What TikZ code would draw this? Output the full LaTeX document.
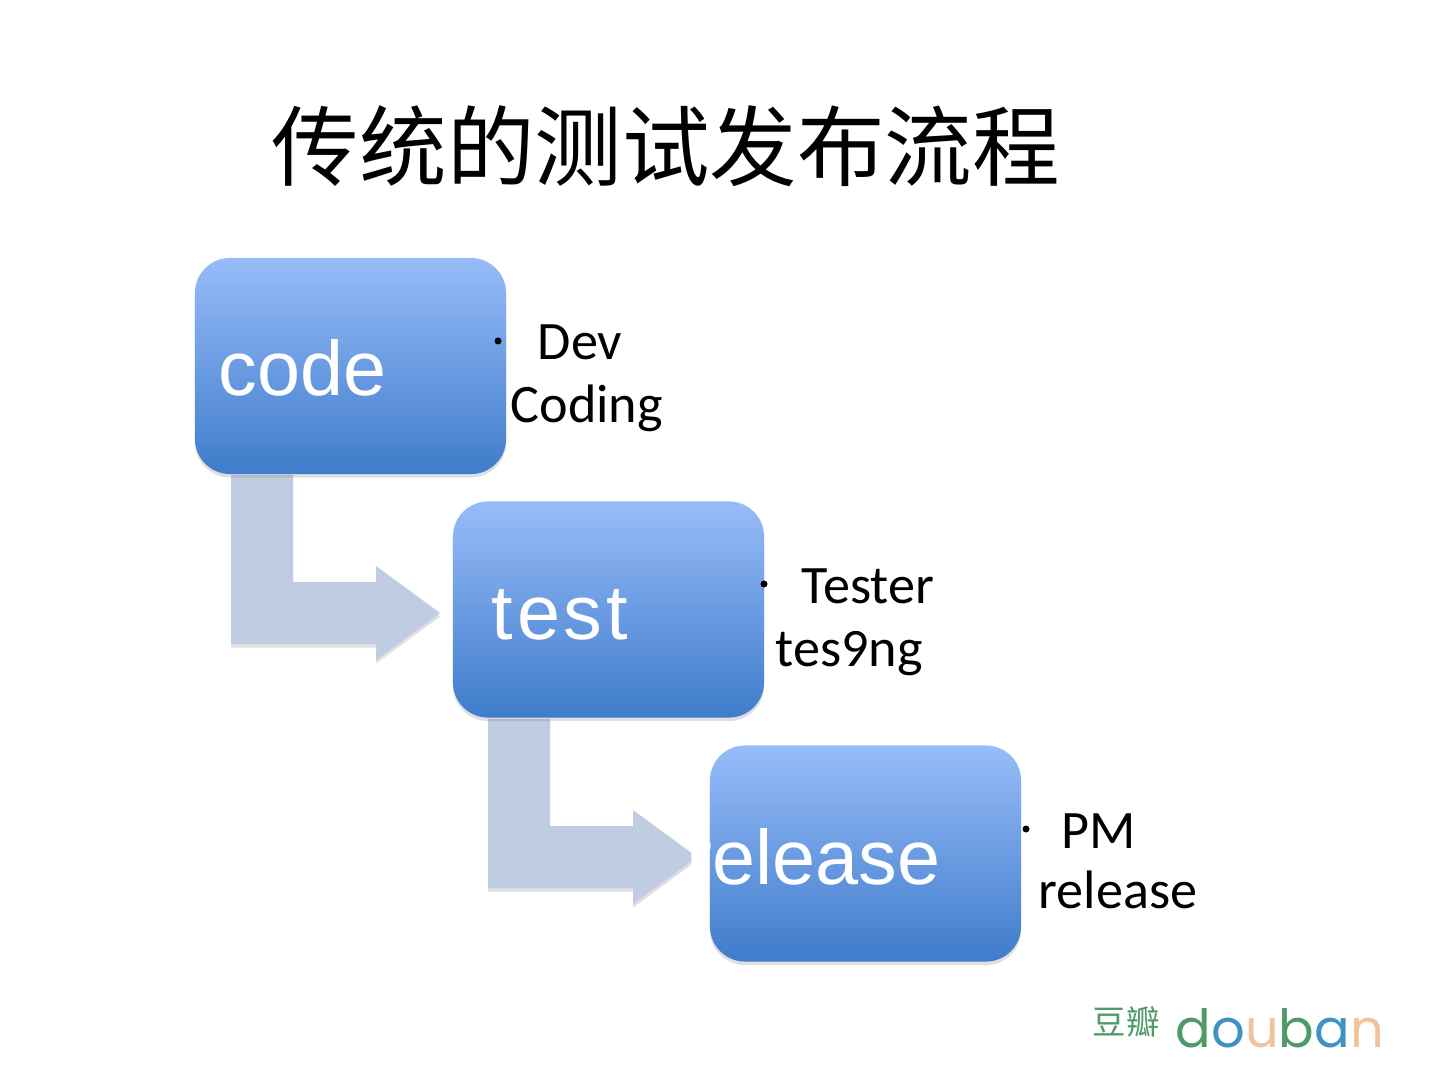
\documentclass[tikz,border=0pt]{standalone}
\usepackage{fontspec}
\usepackage{xcolor}
\setmainfont{Carlito}
\newfontfamily\labelfont{Liberation Sans}
\newfontfamily\cjkfont{Noto Sans CJK SC}
\newfontfamily\logofont{Poppins}
\usetikzlibrary{shadows}
\definecolor{boxtop}{HTML}{97BCF9}
\definecolor{boxbottom}{HTML}{3F7CCB}
\definecolor{arrowfill}{HTML}{BFCCE1}
\definecolor{logogreen}{HTML}{4F9A66}
\definecolor{logoblue}{HTML}{3F93C2}
\definecolor{logopeach}{HTML}{F0C39F}
\tikzset{
  stepbox/.style={rounded corners=10pt,minimum width=3.11cm,minimum height=2.16cm,inner sep=0pt,
    top color=boxtop,bottom color=boxbottom,
    drop shadow={shadow xshift=0pt,shadow yshift=-1pt,opacity=.25}},
  steplabel/.style={anchor=base west,inner sep=0pt,white,font=\labelfont\fontsize{22}{24}\selectfont},
  sidetext/.style={anchor=base west,inner sep=0pt,font=\fontsize{15.4}{18}\selectfont},
  bentarrow/.style={fill=arrowfill,drop shadow={shadow xshift=0pt,shadow yshift=-1pt,opacity=.25}},
}
\begin{document}
\begin{tikzpicture}[x=0.01cm,y=-0.01cm]
\useasboundingbox[fill=white] (0,0) rectangle (1440,1080);
\node[anchor=center,inner sep=0pt,font=\cjkfont\fontsize{24.9}{28}\selectfont] (title) at (666,146) {传统的测试发布流程};
% arrows first, the boxes lie over them
\coordinate (codearrow) at (231,475);
\coordinate (testarrow) at (488,719);
\foreach \a in {codearrow,testarrow}
  \path[bentarrow] (\a) -- ++(62,0) -- ++(0,107) -- ++(83,0) -- ++(0,-16) -- ++(64,47) -- ++(-64,47) -- ++(0,-16) -- ++(-145,0) -- cycle;
\node[stepbox] (code) at (350.5,366) {};
\node[stepbox] (test) at (608.5,609.5) {};
\node[stepbox] (release) at (865.5,853.5) {};
\node[steplabel] (codelabel) at (218,396) {code};
\node[steplabel] (testlabel) at (491,640) {\addfontfeature{LetterSpace=5}test};
\node[steplabel] (releaselabel) at (686,884) {release};
\foreach \x/\y/\t in {537/360/Dev,510/423/Coding,801/604/Tester,775/667/tes9ng,1061/848/PM,1038/908/release}
  \node[sidetext] at (\x,\y) {\t};
\foreach \x/\y in {498/341,764/584,1026/829}
  \fill (\x,\y) circle (3.5);
\node[anchor=base west,inner sep=0pt,logogreen,font=\cjkfont\fontsize{9.5}{11}\selectfont] (logocn) at (1092,1034) {豆瓣};
\node[anchor=base west,inner sep=0pt,font=\logofont\fontsize{15}{17}\selectfont] (logo) at (1175,1047)
  {\textcolor{logogreen}{d}\textcolor{logoblue}{o}\textcolor{logopeach}{u}\textcolor{logogreen}{b}\textcolor{logoblue}{a}\textcolor{logopeach}{n}};
\end{tikzpicture}
\end{document}
